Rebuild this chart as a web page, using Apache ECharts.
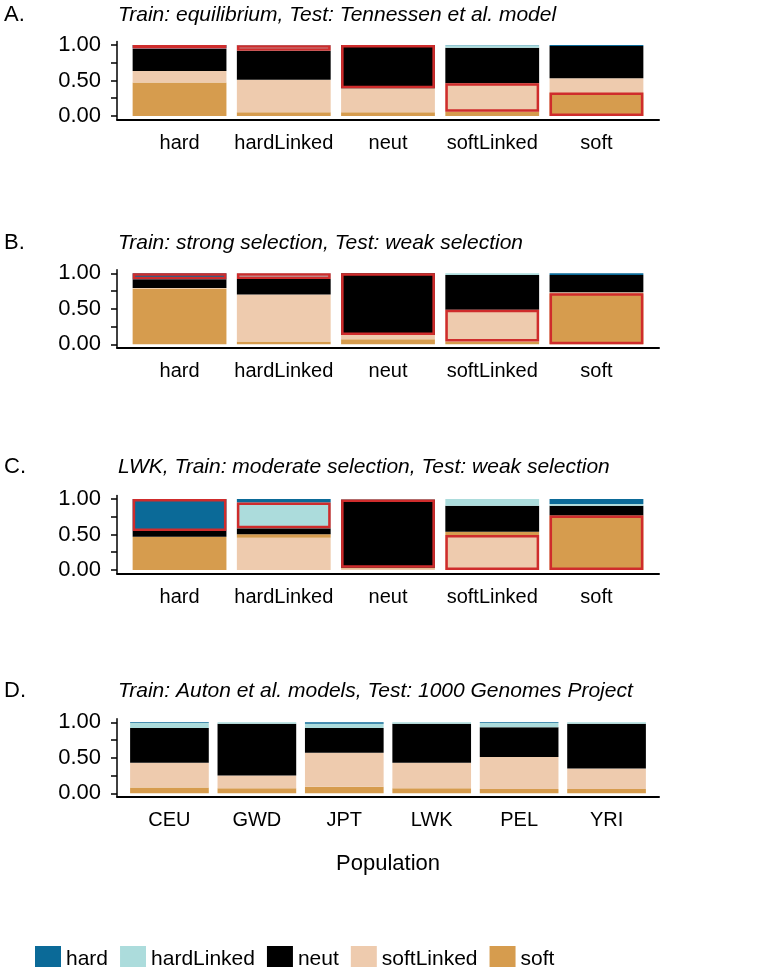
<!DOCTYPE html>
<html><head><meta charset="utf-8">
<script src="https://cdn.jsdelivr.net/npm/echarts@6/dist/echarts.min.js"></script>
<style>html,body{margin:0;padding:0;background:#fff}#c{width:780px;height:967px}</style>
</head><body><div id="c"></div>
<script>
// ---- categories & labels ----
const classes = ['hard', 'hardLinked', 'neut', 'softLinked', 'soft'];
const simCats = ['hard', 'hardLinked', 'neut', 'softLinked', 'soft'];
const popCats = ['CEU', 'GWD', 'JPT', 'LWK', 'PEL', 'YRI'];
const yTickValues = [0, 0.25, 0.5, 0.75, 1];
const yLabelValues = [0, 0.5, 1];
const panelLetters = ['A.', 'B.', 'C.', 'D.'];
const panelTitles = [
  'Train: equilibrium, Test: Tennessen et al. model',
  'Train: strong selection, Test: weak selection',
  'LWK, Train: moderate selection, Test: weak selection',
  'Train: Auton et al. models, Test: 1000 Genomes Project'
];

// ---- Panel A (bars: hard, hardLinked, neut, softLinked, soft) ----
const A_hard       = [0.050, 0.005, 0.000, 0.005, 0.015];
const A_hardLinked = [0.006, 0.075, 0.000, 0.035, 0.000];
const A_neut       = [0.310, 0.410, 0.610, 0.500, 0.455];
const A_softLinked = [0.164, 0.460, 0.340, 0.400, 0.200];
const A_soft       = [0.470, 0.050, 0.050, 0.060, 0.330];

// ---- Panel B ----
const B_hard       = [0.085, 0.000, 0.000, 0.000, 0.025];
const B_hardLinked = [0.000, 0.080, 0.000, 0.025, 0.000];
const B_neut       = [0.120, 0.220, 0.870, 0.490, 0.240];
const B_softLinked = [0.010, 0.660, 0.060, 0.445, 0.015];
const B_soft       = [0.785, 0.040, 0.070, 0.040, 0.720];

// ---- Panel C ----
const C_hard       = [0.450, 0.047, 0.000, 0.000, 0.070];
const C_hardLinked = [0.000, 0.366, 0.005, 0.094, 0.023];
const C_neut       = [0.080, 0.085, 0.965, 0.366, 0.140];
const C_softLinked = [0.000, 0.455, 0.020, 0.493, 0.000];
const C_soft       = [0.470, 0.047, 0.010, 0.047, 0.767];

// ---- Panel D (populations) ----
const D_hard       = [0.010, 0.000, 0.020, 0.000, 0.010, 0.000];
const D_hardLinked = [0.070, 0.020, 0.060, 0.020, 0.060, 0.020];
const D_neut       = [0.490, 0.730, 0.350, 0.550, 0.420, 0.630];
const D_softLinked = [0.350, 0.180, 0.480, 0.360, 0.450, 0.290];
const D_soft       = [0.080, 0.070, 0.090, 0.070, 0.060, 0.060];

const colors = {hard: '#0b6a98', hardLinked: '#acdcdc', neut: '#000000', softLinked: '#eecbae', soft: '#d69c4e'};
const red = '#cf2c2c';
const FONT = 'Liberation Sans, Arial, Helvetica, sans-serif';

const panels = [
  {cats: simCats, data: {hard: A_hard, hardLinked: A_hardLinked, neut: A_neut, softLinked: A_softLinked, soft: A_soft},
   order: ['soft', 'softLinked', 'neut', 'hardLinked', 'hard'], highlight: true, top: 41.45, titleTop: 5},
  {cats: simCats, data: {hard: B_hard, hardLinked: B_hardLinked, neut: B_neut, softLinked: B_softLinked, soft: B_soft},
   order: ['soft', 'softLinked', 'neut', 'hardLinked', 'hard'], highlight: true, top: 269.8, titleTop: 233},
  {cats: simCats, data: {hard: C_hard, hardLinked: C_hardLinked, neut: C_neut, softLinked: C_softLinked, soft: C_soft},
   order: ['softLinked', 'soft', 'neut', 'hardLinked', 'hard'], highlight: true, top: 495.5, titleTop: 457},
  {cats: popCats, data: {hard: D_hard, hardLinked: D_hardLinked, neut: D_neut, softLinked: D_softLinked, soft: D_soft},
   order: ['soft', 'softLinked', 'neut', 'hardLinked', 'hard'], highlight: false, top: 718.8, titleTop: 681}
];

const PANEL_LEFT = 117, PANEL_RIGHT = 121, PANEL_H = 78, EXPAND = 0.6;
const W = 780 - PANEL_LEFT - PANEL_RIGHT;
const grid = [], xAxis = [], yAxis = [], series = [], title = [];
const NP = panels.length;

// frame grids (axis lines, y ticks & labels)
panels.forEach((p, pi) => {
  grid.push({left: PANEL_LEFT, right: PANEL_RIGHT, top: p.top, height: PANEL_H});
  const xa = {
    type: 'value', gridIndex: pi, min: 0, max: 1,
    splitLine: {show: false}, axisTick: {show: false}, axisLabel: {show: false},
    axisLine: {show: true, onZero: false, lineStyle: {color: '#000', width: 2}}
  };
  xAxis.push(xa);
  yAxis.push({
    type: 'value', gridIndex: pi, min: -0.05, max: 1.05,
    splitLine: {show: false},
    axisLine: {show: true, onZero: false, lineStyle: {color: '#000', width: 1.5}},
    axisTick: {show: true, customValues: yTickValues, length: 6, lineStyle: {color: '#000', width: 1.5}},
    axisLabel: {customValues: yLabelValues, formatter: v => v.toFixed(2), fontSize: 22, color: '#000', margin: 16, fontFamily: FONT}
  });
});

// bar grids (discrete scale with ggplot-like 0.6 expansion)
panels.forEach((p, pi) => {
  const n = p.cats.length;
  const band = W / (n - 1 + 2 * EXPAND);
  const pad = band * (EXPAND - 0.5);
  const gi = NP + pi;
  grid.push({left: PANEL_LEFT + pad, right: PANEL_RIGHT + pad, top: p.top, height: PANEL_H});
  const xa = {
    type: 'category', gridIndex: gi, data: p.cats, boundaryGap: true,
    axisLine: {show: false}, axisTick: {show: false}, splitLine: {show: false},
    axisLabel: {fontSize: 20, color: '#000', margin: 14, fontFamily: FONT, interval: 0}
  };
  if (pi === 3) {
    xa.name = 'Population'; xa.nameLocation = 'middle'; xa.nameGap = 56;
    xa.nameTextStyle = {fontSize: 22, color: '#000', fontFamily: FONT};
  }
  xAxis.push(xa);
  yAxis.push({type: 'value', gridIndex: gi, min: -0.05, max: 1.05, show: false, splitLine: {show: false}});
  p.order.forEach(cls => {
    series.push({
      type: 'bar', name: cls, xAxisIndex: gi, yAxisIndex: gi, stack: 'p' + pi,
      barWidth: '90%', barGap: '-100%',
      itemStyle: {color: colors[cls]},
      data: p.data[cls]
    });
  });
  if (p.highlight) {
    p.order.forEach(cls => {
      series.push({
        type: 'bar', name: 'hl_' + cls, xAxisIndex: gi, yAxisIndex: gi, stack: 'hl' + pi,
        barWidth: '90%', barGap: '-100%', z: 5, silent: true,
        itemStyle: {color: 'rgba(0,0,0,0)'},
        data: p.data[cls].map((v, i) => ({
          value: v,
          itemStyle: p.cats[i] === cls
            ? {color: 'rgba(0,0,0,0)', borderColor: red, borderWidth: 2.5}
            : {color: 'rgba(0,0,0,0)', borderWidth: 0}
        }))
      });
    });
  }
  title.push({text: panelLetters[pi], left: 4, top: p.titleTop - 1, padding: 0,
    textStyle: {fontSize: 22, fontWeight: 'normal', color: '#000', fontFamily: FONT}});
  title.push({text: panelTitles[pi], left: 118, top: p.titleTop, padding: 0,
    textStyle: {fontSize: 21, fontWeight: 'normal', fontStyle: 'italic', color: '#000', fontFamily: FONT}});
});

const chart = echarts.init(document.getElementById('c'), null, {renderer: 'canvas'});
chart.setOption({
  animation: false,
  backgroundColor: '#fff',
  title: title,
  grid: grid, xAxis: xAxis, yAxis: yAxis, series: series,
  legend: {
    data: classes, left: 30, top: 941, icon: 'rect', itemWidth: 26, itemHeight: 26, itemGap: 12,
    textStyle: {fontSize: 21, color: '#000', fontFamily: FONT}, selectedMode: false
  }
});
</script></body></html>
